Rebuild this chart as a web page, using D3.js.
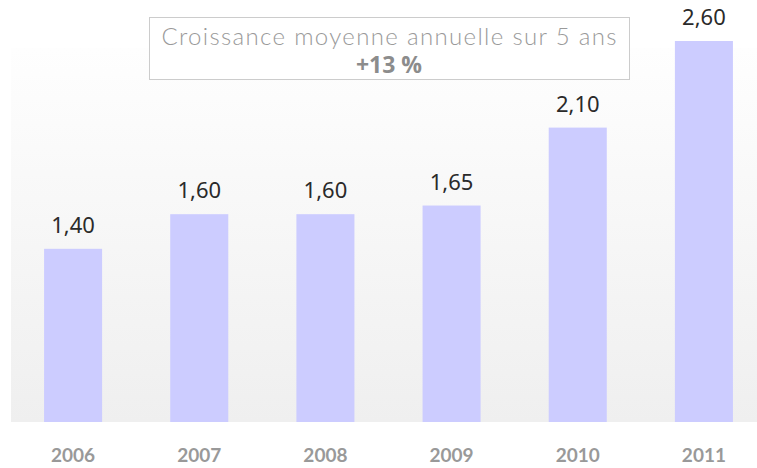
<!DOCTYPE html>
<html>
<head>
<meta charset="utf-8">
<script src="https://cdn.jsdelivr.net/npm/d3@7"></script>
<style>
  body { margin: 0; background: #fff; }
  svg { display: block; }
</style>
</head>
<body>
<svg id="svg" width="757" height="468"></svg>
<script>
var years = ["2006", "2007", "2008", "2009", "2010", "2011"];
var values = [1.40, 1.60, 1.60, 1.65, 2.10, 2.60];
var titleLines = ["Croissance moyenne annuelle sur 5 ans", "+13 %"];

var svg = d3.select("#svg");
var plot = { left: 11, right: 757, top: 48, bottom: 422 };

var defs = svg.append("defs");
var grad = defs.append("linearGradient")
  .attr("id", "bg")
  .attr("x1", 0).attr("y1", 0).attr("x2", 0).attr("y2", 1);
grad.append("stop").attr("offset", "0%").attr("stop-color", "#fefefe");
grad.append("stop").attr("offset", "100%").attr("stop-color", "#efefef");

svg.append("rect")
  .attr("x", plot.left).attr("y", plot.top)
  .attr("width", plot.right - plot.left)
  .attr("height", plot.bottom - plot.top)
  .attr("fill", "url(#bg)");

var x = d3.scaleBand()
  .domain(years)
  .range([10, 767])
  .paddingInner(0.54)
  .paddingOuter(0.27);

// axis does not start at zero in the original
var y = d3.scaleLinear()
  .domain([0.4, 2.6])
  .range([plot.bottom, 41]);

svg.selectAll(".bar")
  .data(values)
  .enter().append("rect")
  .attr("class", "bar")
  .attr("x", (d, i) => x(years[i]))
  .attr("width", x.bandwidth())
  .attr("y", d => y(d))
  .attr("height", d => plot.bottom - y(d))
  .attr("fill", "#ccccff");

var fmt = d3.formatLocale({ decimal: ",", thousands: " ", grouping: [3], currency: ["", "€"] }).format(".2f");

svg.selectAll(".val")
  .data(values)
  .enter().append("text")
  .attr("class", "val")
  .attr("x", (d, i) => x(years[i]) + x.bandwidth() / 2)
  .attr("y", d => y(d) - 16)
  .attr("text-anchor", "middle")
  .attr("font-family", "'Noto Sans', sans-serif")
  .attr("font-size", 22)
  .attr("fill", "#2a2a2a")
  .text(d => fmt(d));

var xAxis = svg.append("g")
  .attr("transform", "translate(0," + plot.bottom + ")")
  .call(d3.axisBottom(x).tickSize(0).tickPadding(40));
xAxis.select(".domain").remove();
xAxis.selectAll("text")
  .attr("font-family", "Lato, sans-serif")
  .attr("font-weight", "bold")
  .attr("font-size", 19)
  .attr("fill", "#999")
  .attr("dy", 0);

// title box
svg.append("rect")
  .attr("x", 149.5).attr("y", 17.5)
  .attr("width", 480).attr("height", 62)
  .attr("fill", "#fff")
  .attr("stroke", "#ccc");
svg.append("text")
  .attr("x", 389).attr("y", 45)
  .attr("text-anchor", "middle")
  .attr("font-family", "Lato, sans-serif")
  .attr("font-weight", 300)
  .attr("font-size", 24)
  .attr("fill", "#9a9a9a")
  .attr("textLength", 455)
  .text(titleLines[0]);
svg.append("text")
  .attr("x", 389).attr("y", 73)
  .attr("text-anchor", "middle")
  .attr("font-family", "'Open Sans', sans-serif")
  .attr("font-weight", "bold")
  .attr("font-size", 23)
  .attr("fill", "#8c8c8c")
  .text(titleLines[1]);
</script>
</body>
</html>
